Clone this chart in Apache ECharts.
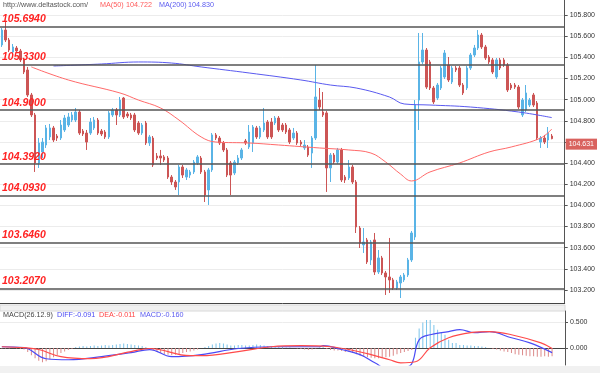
<!DOCTYPE html>
<html><head><meta charset="utf-8">
<script src="https://cdn.jsdelivr.net/npm/echarts@6/dist/echarts.min.js"></script>
<style>html,body{margin:0;padding:0;background:#fff}#c{width:600px;height:373px}</style>
</head><body><div id="c"></div>
<script>
const opens = [105.517,105.658,105.564,105.450,105.488,105.460,105.375,105.280,105.044,104.855,
104.401,104.505,104.571,104.647,104.732,104.656,104.637,104.713,104.760,104.807,
104.807,104.883,104.703,104.684,104.684,104.732,104.807,104.703,104.694,104.647,
104.855,104.902,104.855,105.015,104.864,104.855,104.855,104.779,104.684,104.779,
104.590,104.637,104.467,104.467,104.458,104.448,104.268,104.221,104.221,104.363,
104.268,104.287,104.316,104.401,104.448,104.316,104.146,104.335,104.666,104.637,
104.590,104.524,104.401,104.306,104.401,104.448,104.609,104.552,104.590,104.732,
104.647,104.713,104.788,104.788,104.779,104.826,104.760,104.760,104.713,104.637,
104.684,104.599,104.543,104.552,104.495,104.637,104.996,104.883,104.874,104.354,
104.476,104.410,104.524,104.268,104.259,104.363,104.221,103.786,103.626,103.673,
103.484,103.673,103.370,103.503,103.361,103.323,103.295,103.219,103.266,103.295,
103.342,103.484,103.701,104.996,105.356,105.469,105.356,105.110,105.015,105.110,
105.214,105.327,105.167,105.299,105.299,105.138,105.110,105.299,105.422,105.488,
105.611,105.498,105.403,105.375,105.214,105.375,105.375,105.327,105.138,105.138,
105.119,104.855,104.902,104.949,105.044,104.968,104.599,104.637,104.618,104.656];
const closes = [105.658,105.564,105.469,105.498,105.460,105.375,105.261,105.044,104.855,104.401,
104.590,104.599,104.732,104.732,104.618,104.637,104.760,104.826,104.836,104.855,
104.883,104.684,104.675,104.599,104.788,104.807,104.684,104.675,104.647,104.874,
104.902,104.855,104.996,104.836,104.845,104.826,104.713,104.684,104.760,104.590,
104.647,104.382,104.448,104.448,104.429,104.268,104.221,104.174,104.363,104.287,
104.335,104.316,104.410,104.458,104.316,104.098,104.335,104.666,104.637,104.590,
104.524,104.287,104.287,104.410,104.448,104.524,104.590,104.694,104.741,104.647,
104.732,104.779,104.647,104.647,104.826,104.713,104.713,104.694,104.599,104.684,
104.590,104.580,104.571,104.476,104.637,105.025,104.930,104.855,104.354,104.476,
104.410,104.524,104.240,104.240,104.363,104.221,103.796,103.644,103.654,103.465,
103.654,103.370,103.503,103.361,103.323,103.295,103.219,103.276,103.323,103.342,
103.484,103.739,104.949,105.356,105.469,105.119,105.110,104.978,105.138,105.299,
105.441,105.186,105.299,105.280,105.138,105.063,105.299,105.422,105.488,105.611,
105.498,105.394,105.356,105.261,105.375,105.299,105.327,105.091,105.110,105.119,
104.930,104.996,105.063,104.996,104.949,104.637,104.637,104.599,104.684,104.631];
const lows = [105.498,105.545,105.450,105.422,105.441,105.356,105.242,105.025,104.836,104.316,
104.354,104.448,104.543,104.618,104.599,104.609,104.618,104.694,104.741,104.788,
104.788,104.666,104.656,104.524,104.666,104.713,104.666,104.656,104.628,104.628,
104.836,104.760,104.836,104.817,104.826,104.807,104.694,104.666,104.666,104.571,
104.562,104.363,104.429,104.382,104.410,104.250,104.193,104.146,104.098,104.259,
104.240,104.259,104.297,104.382,104.297,104.032,104.004,104.316,104.618,104.571,
104.505,104.268,104.098,104.287,104.382,104.429,104.571,104.533,104.505,104.628,
104.628,104.694,104.628,104.628,104.760,104.694,104.694,104.675,104.580,104.618,
104.571,104.562,104.524,104.458,104.354,104.618,104.902,104.836,104.127,104.221,
104.391,104.391,104.221,104.212,104.240,104.202,103.739,103.597,103.550,103.446,
103.436,103.342,103.351,103.342,103.153,103.172,103.200,103.200,103.124,103.276,
103.323,103.465,103.673,104.713,105.337,105.101,105.091,104.959,104.996,105.091,
105.195,105.167,105.148,105.261,105.119,105.044,105.091,105.280,105.403,105.469,
105.479,105.375,105.337,105.242,105.195,105.280,105.309,105.072,105.091,105.101,
104.911,104.836,104.883,104.930,104.930,104.618,104.543,104.580,104.543,104.625];
const highs = [105.677,105.734,105.583,105.526,105.507,105.479,105.394,105.309,105.063,104.874,
104.637,104.637,104.760,104.770,104.751,104.675,104.807,104.855,104.874,104.883,
104.921,104.902,104.722,104.713,104.826,104.836,104.826,104.722,104.713,104.892,
104.921,104.921,105.025,105.025,104.883,104.874,104.874,104.798,104.779,104.798,
104.666,104.656,104.495,104.524,104.476,104.467,104.287,104.240,104.382,104.382,
104.354,104.335,104.429,104.476,104.467,104.335,104.354,104.684,104.684,104.656,
104.609,104.543,104.420,104.429,104.476,104.543,104.628,104.760,104.760,104.751,
104.751,104.921,104.807,104.826,104.845,104.845,104.779,104.779,104.732,104.732,
104.703,104.618,104.618,104.571,104.656,105.327,105.110,105.072,104.892,104.495,
104.495,104.543,104.543,104.287,104.429,104.382,104.240,103.805,103.786,103.692,
103.673,103.739,103.578,103.522,103.380,103.692,103.314,103.295,103.342,103.361,
103.503,103.758,104.996,105.630,105.630,105.488,105.375,105.129,105.157,105.318,
105.469,105.403,105.318,105.318,105.318,105.157,105.318,105.441,105.517,105.658,
105.630,105.517,105.422,105.394,105.394,105.394,105.394,105.346,105.157,105.157,
105.138,105.015,105.138,105.015,105.063,104.987,104.656,104.666,104.741,104.675];

// moving averages read at selected candle indices: [index, value]
const ma50 = [[8,105.309],[18,105.186],[32,105.063],[37,104.996],[43,104.921],[48,104.807],[54,104.647],[58,104.599],[67,104.590],[75,104.571],[86,104.543],[94,104.524],[100,104.495],[104,104.410],[108,104.297],[111,104.231],[116,104.316],[124,104.401],[132,104.505],[138,104.552],[146,104.637],[149,104.722]];
const ma200 = [[14,105.318],[27,105.337],[37,105.356],[46,105.346],[54,105.309],[67,105.252],[81,105.186],[89,105.138],[96,105.110],[105,105.025],[109,104.959],[116,104.949],[127,104.930],[140,104.883],[149,104.830]];

const diffLine = [[0,0.025],[6,0.006],[12,-0.21],[18,-0.23],[27,-0.17],[35,-0.09],[40,-0.03],[46,-0.17],[54,-0.13],[64,-0.01],[73,0.025],[81,0.025],[86,0.025],[87,0.045],[92,-0.03],[97,-0.13],[101,-0.29],[105,-0.43],[109,-0.39],[111,-0.31],[113,0.16],[116,0.26],[121,0.32],[124,0.36],[128,0.30],[132,0.32],[138,0.20],[143,0.10],[149,-0.091]];
const deaLine = [[0,0.025],[6,0.006],[10,-0.03],[16,-0.17],[24,-0.21],[35,-0.07],[40,-0.01],[51,-0.15],[54,-0.15],[64,-0.07],[73,0.025],[81,0.045],[89,0.025],[94,-0.03],[100,-0.13],[105,-0.23],[108,-0.29],[112,-0.27],[116,0.005],[121,0.20],[127,0.30],[132,0.32],[138,0.26],[146,0.10],[149,-0.011]];
const macdHist = [-0.01,-0.01,-0.01,0,-0.01,-0.02,-0.03,
-0.08,-0.14,-0.2,-0.25,-0.28,-0.26,-0.22,-0.18,
-0.14,-0.1,-0.07,-0.04,-0.02,
0.02,0.03,0.04,0.03,0.04,0.05,0.04,0.05,0.06,0.05,0.06,0.07,0.08,0.09,0.08,0.07,0.06,0.05,0.04,0.02,
-0.02,-0.05,-0.08,-0.1,-0.12,-0.13,-0.14,-0.13,-0.12,-0.1,-0.08,-0.07,-0.05,-0.03,
0.0,0.02,0.04,0.07,0.09,0.1,0.09,0.07,0.05,0.05,0.06,0.06,0.05,
0.05,0.06,0.07,0.06,0.05,0.04,0.03,0.03,0.02,0.02,0.01,0.01,0.0,-0.01,
-0.02,-0.03,-0.04,-0.03,-0.01,0.01,0.02,-0.02,-0.04,-0.05,-0.05,-0.06,-0.08,
-0.08,-0.1,-0.12,-0.15,-0.17,-0.18,-0.19,-0.2,-0.2,-0.19,-0.18,-0.17,-0.15,-0.12,-0.1,-0.08,-0.06,-0.04,
0.2,0.38,0.5,0.55,0.55,0.45,0.36,0.3,0.26,0.16,0.1,
0.1,0.06,0.06,0.05,0.05,0.04,0.04,0.03,0.02,
0,-0.02,-0.03,-0.05,-0.07,-0.08,-0.1,-0.12,-0.13,-0.14,-0.15,-0.16,-0.16,-0.17,-0.17,-0.16,-0.17,-0.16];

const levels = [105.694, 105.330, 104.900, 104.392, 104.093, 103.646, 103.207];
const levelLabels = ['105.6940','105.3300','104.9000','104.3920','104.0930','103.6460','103.2070'];
const priceTicks = [103.2,103.4,103.6,103.8,104.0,104.2,104.4,104.6,104.8,105.0,105.2,105.4,105.6,105.8];
const macdTicks = [0, 0.5];
const macdParams = '26.12.9';
const emptyTail = 3;

const N = opens.length;
const cats = Array.from({length: N + emptyTail}, (_, i) => String(i));
const candles = opens.map((o, i) => [o, closes[i], lows[i], highs[i]]);
const lastClose = closes[N - 1];
const lastDiff = diffLine[diffLine.length - 1][1];
const lastDea = deaLine[deaLine.length - 1][1];
const lastHist = macdHist[macdHist.length - 1];

const BLUE = '#5ab4e6', RED = '#cc5555';
const small = '"Liberation Sans", Arial, sans-serif';
const PMIN = 103.077, PMAX = 105.942;

const chart = echarts.init(document.getElementById('c'));
const levelItems = levels.map((v, i) => ({
  yAxis: v,
  lineStyle: {color: '#555', width: 1.5, type: 'solid'},
  label: {show: true, position: 'insideStartTop', formatter: levelLabels[i], color: '#ff2222',
    fontStyle: 'italic', fontWeight: 'bold', fontSize: 10.5, fontFamily: small, distance: [2, 2]}
}));

const axisTxt = {color: '#333', fontSize: 7, fontFamily: small, margin: 5};
const hdr = (x, y, text, fill) => ({type: 'text', x, y, silent: true,
  style: {text, fill, font: '7.2px ' + small, verticalAlign: 'middle'}});
chart.setOption({
  animation: false,
  backgroundColor: '#fff',
  grid: [
    {left: 0, right: 35, top: 0, height: 303},
    {left: 0, right: 35, top: 311, height: 54}
  ],
  xAxis: [0, 1].map(g => ({
    type: 'category', data: cats, gridIndex: g, boundaryGap: true,
    axisLine: {show: true, lineStyle: {color: '#444'}}, axisTick: {show: false},
    axisLabel: {show: false}, splitLine: {show: false}
  })),
  yAxis: [
    {type: 'value', gridIndex: 0, position: 'right', min: PMIN, max: PMAX,
     axisLine: {show: true, lineStyle: {color: '#555'}},
     axisTick: {show: true, customValues: priceTicks, length: 3, lineStyle: {color: '#555'}},
     axisLabel: Object.assign({customValues: priceTicks, formatter: v => v.toFixed(3)}, axisTxt),
     splitLine: {show: true, lineStyle: {color: '#ececec'}}},
    {type: 'value', gridIndex: 1, position: 'right', min: -0.333, max: 0.725,
     axisLine: {show: true, lineStyle: {color: '#555'}},
     axisTick: {show: true, customValues: macdTicks, length: 3, lineStyle: {color: '#555'}},
     axisLabel: Object.assign({customValues: macdTicks, formatter: v => v.toFixed(3)}, axisTxt),
     splitLine: {show: true, lineStyle: {color: '#ececec'}}},
    {type: 'value', gridIndex: 0, position: 'right', min: PMIN, max: PMAX, z: 10,
     axisLine: {show: false}, axisTick: {show: false}, splitLine: {show: false},
     axisLabel: {customValues: [lastClose], formatter: v => v.toFixed(3), color: '#fff',
       backgroundColor: '#d9625e', padding: [2, 3, 2, 3], fontSize: 7, fontFamily: small,
       margin: 1, verticalAlign: 'top'}}
  ],
  graphic: [
    {type: 'rect', shape: {x: 0, y: 305, width: 565, height: 6}, style: {fill: '#f1f1f1', stroke: '#d8d8d8', lineWidth: 1}, silent: true},
    {type: 'rect', shape: {x: 0, y: 366, width: 600, height: 7}, style: {fill: '#f1f1f1'}, silent: true},
    hdr(3, 5, 'http://www.deltastock.com/', '#555'),
    hdr(100, 5, 'MA(50)', '#ff5a5a'),
    hdr(126, 5, ma50[ma50.length - 1][1].toFixed(3), '#ff5a5a'),
    hdr(159, 5, 'MA(200)', '#5a5af0'),
    hdr(188, 5, ma200[ma200.length - 1][1].toFixed(3), '#5a5af0'),
    hdr(3, 315, 'MACD(' + macdParams + ')', '#444'),
    hdr(57, 315, 'DIFF:' + lastDiff.toFixed(3), '#4a4af5'),
    hdr(99, 315, 'DEA:' + lastDea.toFixed(3), '#ff4444'),
    hdr(140, 315, 'MACD:' + lastHist.toFixed(3), '#5a5af0')
  ],
  series: [
    {type: 'candlestick', name: 'price', xAxisIndex: 0, yAxisIndex: 0, data: candles, barWidth: 2,
     itemStyle: {color: BLUE, color0: RED, borderColor: BLUE, borderColor0: RED, borderWidth: 1},
     markLine: {silent: true, symbol: 'none', animation: false, data: levelItems}},
    {type: 'line', name: 'MA50', xAxisIndex: 0, yAxisIndex: 0, data: ma50, smooth: 0.4, symbol: 'none',
     lineStyle: {color: '#ff6a6a', width: 1}},
    {type: 'line', name: 'MA200', xAxisIndex: 0, yAxisIndex: 0, data: ma200, smooth: 0.4, symbol: 'none',
     lineStyle: {color: '#5a5af0', width: 1}},
    {type: 'bar', name: 'MACD', xAxisIndex: 1, yAxisIndex: 1, data: macdHist, barWidth: 1,
     itemStyle: {color: p => p.value >= 0 ? '#7cc4ea' : '#dc8a8a'}},
    {type: 'line', name: 'DIFF', xAxisIndex: 1, yAxisIndex: 1, data: diffLine, smooth: 0.4, symbol: 'none',
     lineStyle: {color: '#4a4af5', width: 1.2}},
    {type: 'line', name: 'DEA', xAxisIndex: 1, yAxisIndex: 1, data: deaLine, smooth: 0.4, symbol: 'none',
     lineStyle: {color: '#ff4a4a', width: 1.2}}
  ]
});
</script></body></html>
